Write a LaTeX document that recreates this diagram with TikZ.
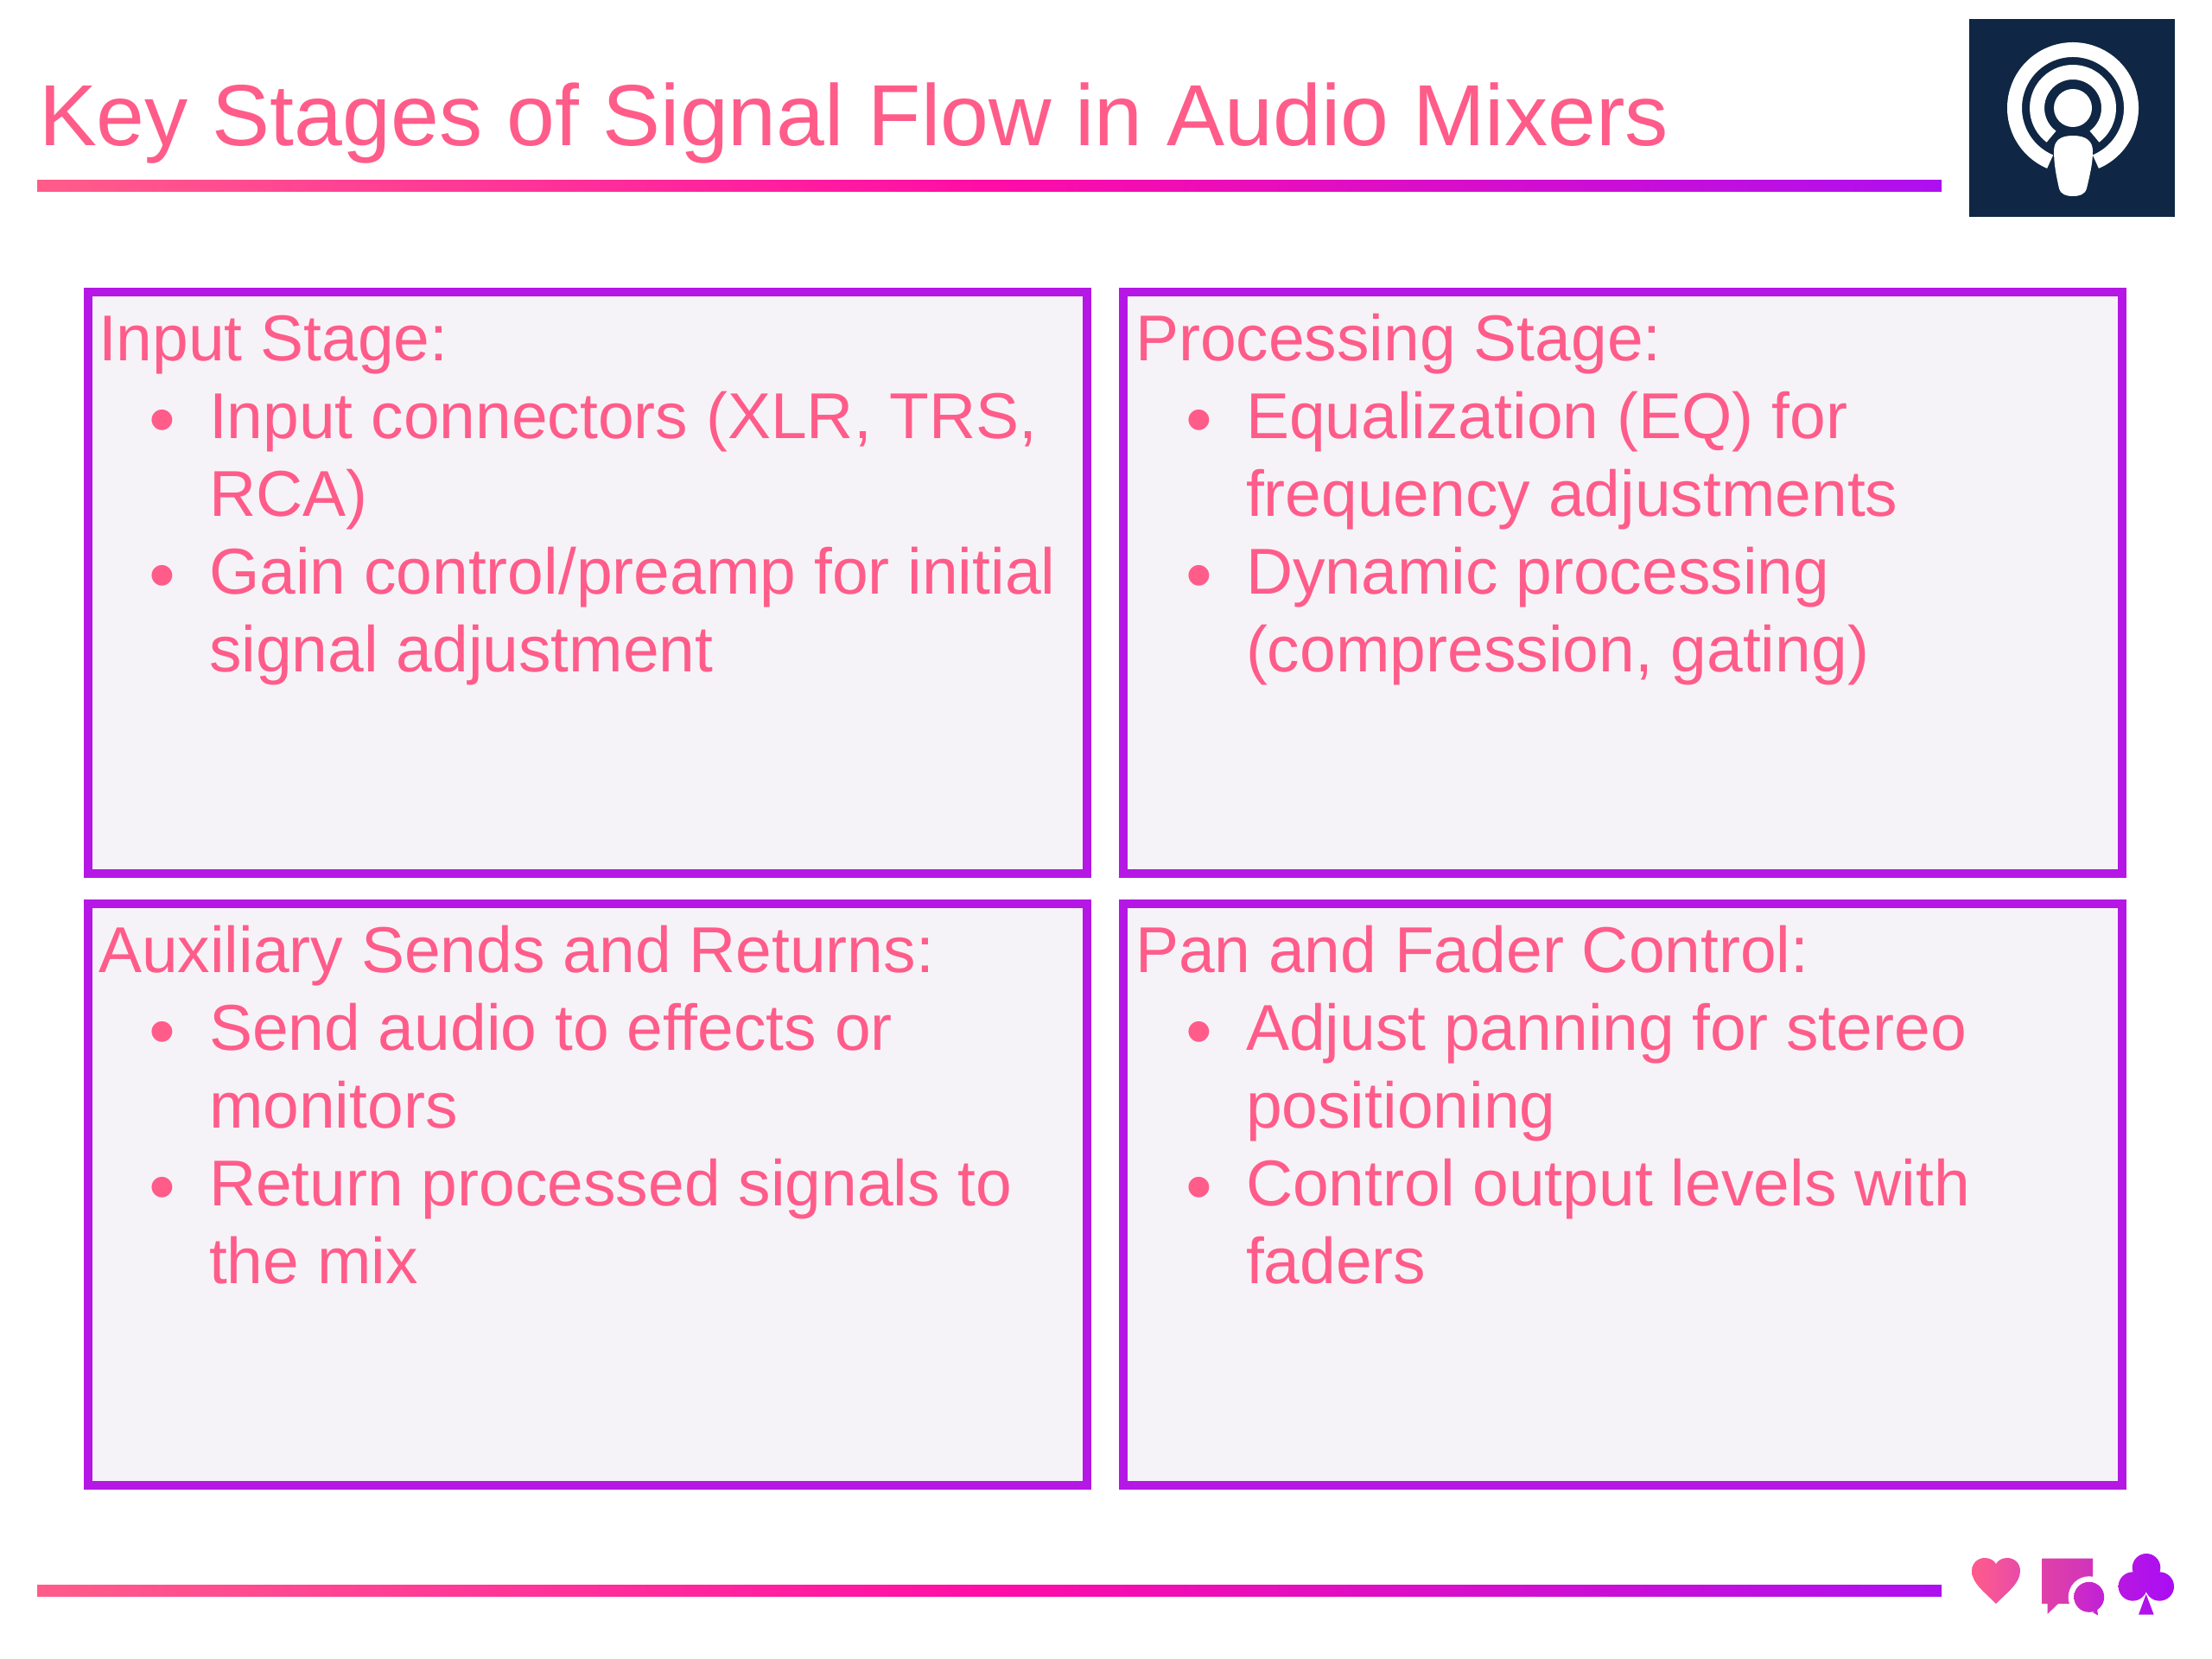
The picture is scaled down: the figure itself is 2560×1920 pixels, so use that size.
\documentclass[tikz,border=0pt]{standalone}
\usepackage{fontspec}
\setmainfont{Liberation Sans}
\usetikzlibrary{positioning}
\definecolor{rosetext}{HTML}{FF5C8A}
\definecolor{panelline}{HTML}{B517E5}
\definecolor{panelfill}{HTML}{F6F3F8}
\definecolor{gradleft}{HTML}{FF5C8A}
\definecolor{gradmid}{HTML}{FF0DA6}
\definecolor{gradright}{HTML}{AE0FF0}
\definecolor{badgeblue}{HTML}{0F2744}
\definecolor{heartright}{HTML}{E84BA8}
\definecolor{bubbleleft}{HTML}{E040A8}
\definecolor{bubblemid}{HTML}{D033BC}
\definecolor{dotleft}{HTML}{CE2CC4}
\definecolor{dotright}{HTML}{C022D6}
\definecolor{clubleft}{HTML}{B818E0}
\definecolor{clubright}{HTML}{A90CF5}
\newcommand{\stagedot}{\makebox[64pt][l]{\hspace{29pt}\raisebox{-4pt}{\fontsize{44}{45}\selectfont •}}}
\newcommand{\stagegap}{\hspace{64pt}}
\tikzstyle{every node}=[inner sep=0pt,outer sep=0pt]
\tikzstyle{stagebox}=[draw=panelline,line width=5pt,fill=panelfill,anchor=north west,minimum width=578pt,minimum height=336.5pt]
\tikzstyle{stagetext}=[text=rosetext,anchor=north west,align=left,font=\fontsize{37.5}{45}\selectfont]
\tikzstyle{gradrule}=[left color=gradleft,right color=gradright,middle color=gradmid,anchor=west,minimum width=1102pt,minimum height=6.5pt]
\begin{document}
\begin{tikzpicture}[x=0.5pt,y=0.5pt]
  \useasboundingbox (0,0) rectangle (2560,-1920);
  % title
  \node[anchor=base west,text=rosetext,font=\fontsize{50.2}{60}\selectfont] (title) at (45,-169) {Key Stages of Signal Flow in Audio Mixers};
  \node[gradrule] (toprule) at (43,-215.5) {};
  \node[gradrule] (bottomrule) at (43,-1840.5) {};
  % panels
  \node[stagebox] (input) at (102,-338) {};
  \node[stagebox] (processing) at (1300,-338) {};
  \node[stagebox] (auxiliary) at (102,-1046) {};
  \node[stagebox] (panfader) at (1300,-1046) {};
  \node[stagetext] (inputtext) at ([shift={(12,-16)}]input.north west) {\strut Input Stage:\\
    \stagedot Input connectors (XLR, TRS,\\
    \stagegap RCA)\\
    \stagedot Gain control/preamp for initial\\
    \stagegap signal adjustment};
  \node[stagetext] (processingtext) at ([shift={(14,-16)}]processing.north west) {\strut Processing Stage:\\
    \stagedot Equalization (EQ) for\\
    \stagegap frequency adjustments\\
    \stagedot Dynamic processing\\
    \stagegap (compression, gating)};
  \node[stagetext] (auxiliarytext) at ([shift={(12,-16)}]auxiliary.north west) {\strut Auxiliary Sends and Returns:\\
    \stagedot Send audio to effects or\\
    \stagegap monitors\\
    \stagedot Return processed signals to\\
    \stagegap the mix};
  \node[stagetext] (panfadertext) at ([shift={(14,-16)}]panfader.north west) {\strut Pan and Fader Control:\\
    \stagedot Adjust panning for stereo\\
    \stagegap positioning\\
    \stagedot Control output levels with\\
    \stagegap faders};
  % podcast badge
  \fill[badgeblue] (2279,-22) rectangle (2517,-251);
  \draw[white,line width=8.5pt] (2399,-125) ++(-67:67.5) arc (-67:247:67.5);
  \draw[white,line width=8.5pt] (2399,-125) ++(-53:41.5) arc (-53:233:41.5);
  \fill[white] (2399,-125) circle (22);
  \fill[white] (2399,-157) .. controls (2414,-157) and (2422,-163) .. (2422,-175)
    .. controls (2422,-190) and (2418,-205) .. (2415,-218)
    .. controls (2413,-225) and (2407,-227) .. (2399,-227)
    .. controls (2391,-227) and (2385,-225) .. (2383,-218)
    .. controls (2380,-205) and (2377,-190) .. (2377,-175)
    .. controls (2377,-163) and (2384,-157) .. (2399,-157) -- cycle;
  % footer icons
  \shade[left color=gradleft,right color=heartright] (2310,-1856)
    .. controls (2296,-1842) and (2282,-1832) .. (2282,-1818)
    .. controls (2282,-1808) and (2290,-1803) .. (2297,-1803)
    .. controls (2303,-1803) and (2308,-1806) .. (2310,-1810)
    .. controls (2312,-1806) and (2317,-1803) .. (2323,-1803)
    .. controls (2330,-1803) and (2338,-1808) .. (2338,-1818)
    .. controls (2338,-1832) and (2324,-1842) .. (2310,-1856) -- cycle;
  \shade[left color=bubbleleft,right color=bubblemid] (2363.5,-1803.5) -- (2422,-1803.5) -- (2422,-1856) -- (2382,-1856) -- (2369.5,-1868) -- (2369.5,-1856) -- (2363.5,-1856) -- cycle;
  \fill[white] (2417.7,-1848.3) circle (24);
  \shade[left color=dotleft,right color=dotright] (2417.7,-1848.3) circle (17.5);
  \shade[left color=dotleft,right color=dotright] (2422,-1866) -- (2428,-1869.5) -- (2427,-1861) -- cycle;
  \shade[left color=clubleft,right color=clubright] (2484,-1814.3) circle (16.3) (2468.3,-1836) circle (16.7) (2499.3,-1836) circle (16.7)
    (2484,-1825) -- (2472,-1836) -- (2484,-1842) -- (2496,-1836) -- cycle
    (2483.7,-1845) -- (2475,-1868.7) -- (2492.7,-1868.7) -- cycle;
\end{tikzpicture}
\end{document}
